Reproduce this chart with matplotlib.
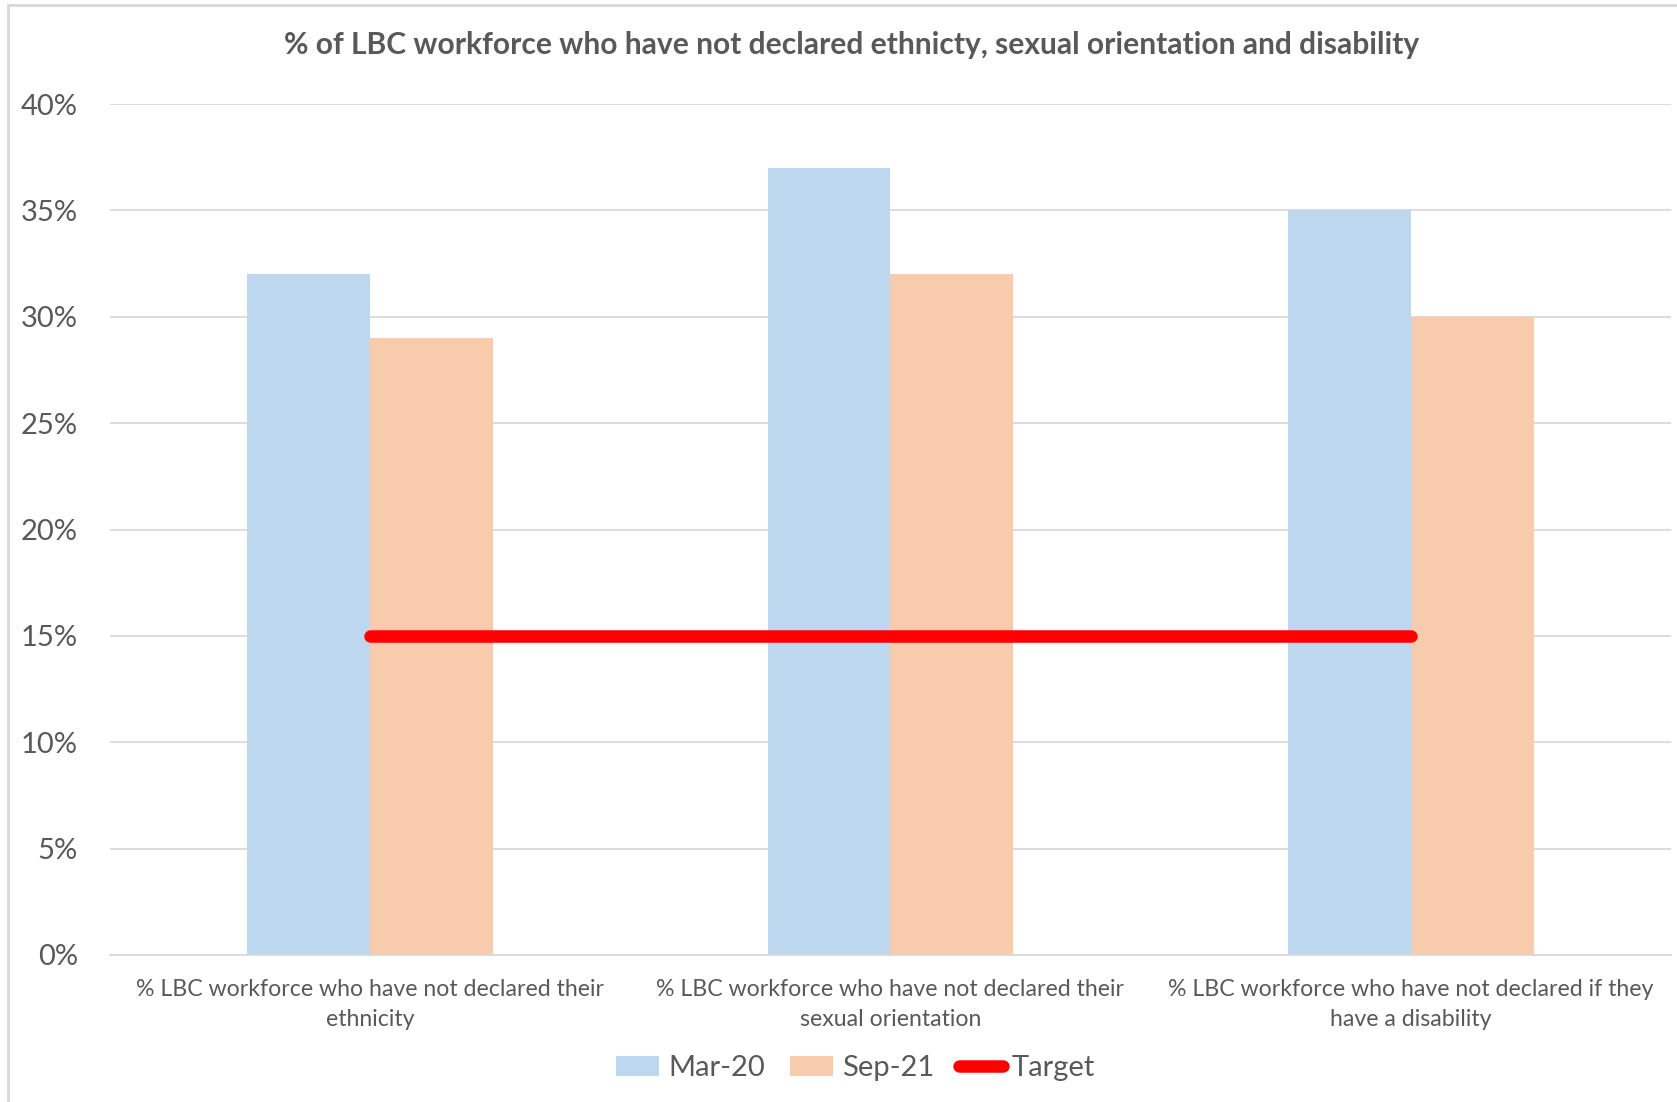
import matplotlib.pyplot as plt
import numpy as np
from matplotlib.patches import Rectangle
from matplotlib.ticker import PercentFormatter

categories = [
    "% LBC workforce who have not declared their\nethnicity",
    "% LBC workforce who have not declared their\nsexual orientation",
    "% LBC workforce who have not declared if they\nhave a disability",
]
mar20 = [0.32, 0.37, 0.35]
sep21 = [0.29, 0.32, 0.30]
target = [0.15, 0.15, 0.15]
series_names = ["Mar-20", "Sep-21", "Target"]

TEXT = "#595959"
GRID = "#D9D9D9"

plt.rcParams['font.family'] = ['Lato', 'DejaVu Sans']

fig = plt.figure(figsize=(16.77, 11.02), dpi=100)
ax = fig.add_axes([0.0656, 0.1334, 0.9308, 0.7722])

x = np.arange(len(categories))
w = 0.236
b1 = ax.bar(x - w / 2, mar20, w, color="#BDD7EE", label=series_names[0], zorder=2)
b2 = ax.bar(x + w / 2, sep21, w, color="#F8CBAD", label=series_names[1], zorder=2)
ln, = ax.plot(x, target, color="#FF0000", lw=9, solid_capstyle="round",
              label=series_names[2], zorder=3)

ax.set_xlim(-0.5, 2.5)
ax.set_ylim(0, 0.40)
ax.set_yticks(np.arange(0, 0.41, 0.05))
ax.yaxis.set_major_formatter(PercentFormatter(1.0, decimals=0))
ax.yaxis.grid(True, color=GRID, lw=1.3, zorder=0)
ax.set_axisbelow(True)
for s in ["top", "right", "left"]:
    ax.spines[s].set_visible(False)
ax.spines["bottom"].set_color(GRID)
ax.spines["bottom"].set_linewidth(1.3)

ax.set_xticks(x)
ax.set_xticklabels(categories, fontsize=16.7, color=TEXT, linespacing=1.55)
ax.tick_params(axis="x", length=0, pad=17)
ax.tick_params(axis="y", length=0, pad=23, labelsize=21, labelcolor=TEXT)

fig.text(0.508, 0.959,
         "% of LBC workforce who have not declared ethnicty, sexual orientation and disability",
         ha="center", va="center", fontsize=21.6, fontweight="bold", color=TEXT)

fig.legend([b1, b2, ln], series_names, loc="center", bbox_to_anchor=(0.51, 0.0305),
           ncol=3, frameon=False, fontsize=21, labelcolor=TEXT,
           handlelength=1.5, handleheight=0.65, handletextpad=0.3,
           columnspacing=0.85)

# chart area border
fig.patches.append(Rectangle((8 / 1677, -0.05), 1.1, 1.05 - 5 / 1102,
                             transform=fig.transFigure, fill=False,
                             edgecolor=GRID, lw=2))

fig.savefig("out.png", dpi=100)
